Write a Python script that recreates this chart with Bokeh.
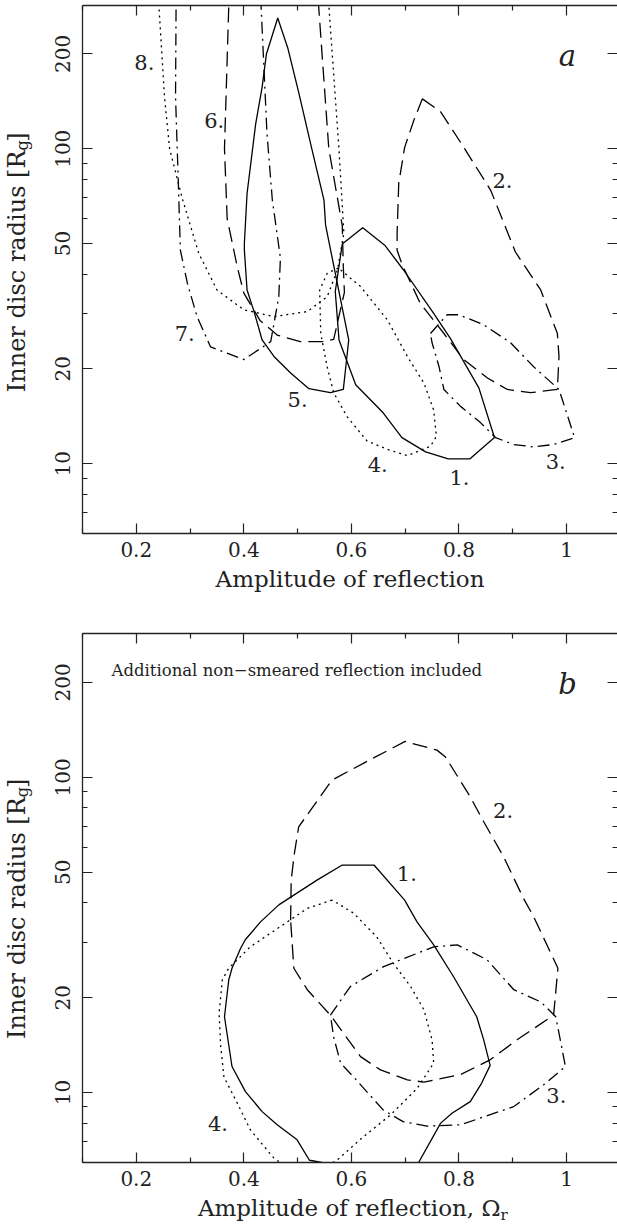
import math
from bokeh.plotting import figure
from bokeh.models import (Range1d, FixedTicker, CustomJSTickFormatter, LinearAxis,
                          LogAxis, Label, ColumnDataSource)
from bokeh.layouts import column, row
from bokeh.embed import file_html
from bokeh.resources import INLINE
from bokeh.core.properties import value

# ---------------- data: panel a ----------------
c1a_x = [0.583, 0.621, 0.662, 0.697, 0.753, 0.784, 0.837, 0.866, 0.820, 0.780, 0.738, 0.694, 0.659, 0.608, 0.577, 0.570, 0.583]
c1a_y = [49.8, 56.1, 49.4, 41.2, 30.0, 25.0, 17.4, 12.1, 10.35, 10.35, 10.9, 12.1, 14.5, 17.8, 24.7, 35.2, 49.8]

c2a_x = [0.732, 0.766, 0.809, 0.859, 0.905, 0.952, 0.983, 0.986, 0.983, 0.933, 0.890, 0.853, 0.809, 0.772, 0.728, 0.694, 0.685, 0.685, 0.688, 0.699, 0.716, 0.732]
c2a_y = [144, 131, 101, 73.8, 47.0, 35.6, 25.9, 21.9, 17.2, 16.8, 17.2, 18.7, 21.4, 25.9, 32.3, 43.0, 47.6, 53.8, 77.6, 101, 123, 144]

c3a_x = [0.747, 0.778, 0.800, 0.846, 0.896, 0.939, 0.986, 1.015, 0.976, 0.939, 0.902, 0.868, 0.840, 0.803, 0.772, 0.763, 0.750, 0.747]
c3a_y = [25.9, 29.7, 29.7, 27.6, 24.2, 20.3, 17.2, 12.1, 11.5, 11.3, 11.5, 12.1, 13.5, 15.2, 17.2, 20.3, 24.2, 25.9]

c4a_x = [0.580, 0.617, 0.667, 0.704, 0.735, 0.753, 0.758, 0.747, 0.704, 0.667, 0.629, 0.592, 0.567, 0.555, 0.543, 0.541, 0.555, 0.574, 0.580]
c4a_y = [41.2, 36.5, 28.6, 21.9, 18.0, 14.8, 12.2, 11.35, 10.6, 11.1, 11.8, 14.1, 16.8, 20.3, 25.9, 35.6, 40.2, 41.7, 41.2]

c5a_x = [0.401, 0.406, 0.422, 0.434, 0.442, 0.463, 0.482, 0.502, 0.524, 0.549, 0.552, 0.595, 0.585, 0.561, 0.521, 0.487, 0.456, 0.434, 0.419, 0.406, 0.401, 0.401]
c5a_y = [50.1, 72.1, 120, 157, 200, 260, 208, 151, 104, 68.7, 57.2, 24.7, 17.2, 16.8, 17.3, 19.4, 21.9, 24.7, 30.4, 35.6, 47.6, 50.1]

c6a_x = [0.373, 0.372, 0.364, 0.369, 0.388, 0.400, 0.430, 0.462, 0.505, 0.546, 0.567, 0.587, 0.585, 0.583, 0.558, 0.539, 0.537]
c6a_y = [330, 285, 100, 60, 42, 34.8, 28.5, 25.6, 24.4, 24.4, 24.8, 35.0, 42.0, 57.0, 100, 285, 330]

c7a_x = [0.274, 0.274, 0.273, 0.278, 0.282, 0.295, 0.313, 0.338, 0.400, 0.450, 0.465, 0.468, 0.453, 0.443, 0.432, 0.431]
c7a_y = [330, 285, 146, 80, 47.6, 37.4, 29.3, 23.5, 21.4, 24.4, 33.9, 45.0, 68.7, 112, 285, 330]

c8a_x = [0.243, 0.242, 0.2525, 0.262, 0.285, 0.316, 0.350, 0.400, 0.456, 0.518, 0.555, 0.574, 0.586, 0.577, 0.558, 0.557]
c8a_y = [330, 285, 146, 100, 70, 46.6, 35.6, 30.8, 29.3, 30.4, 33.9, 41.2, 54, 99, 285, 330]

lab_a_text = ["1.", "2.", "3.", "4.", "5.", "6.", "7.", "8."]
lab_a_x = [0.801, 0.881, 0.980, 0.649, 0.500, 0.345, 0.290, 0.215]
lab_a_y = [8.58, 75.4, 9.69, 9.46, 15.2, 117, 24.6, 179.5]

# ---------------- data: panel b ----------------
c1b_x = [0.465, 0.536, 0.583, 0.642, 0.699, 0.722, 0.753, 0.790, 0.833, 0.846, 0.858, 0.842, 0.821, 0.787, 0.766, 0.725, 0.630, 0.545, 0.522, 0.499, 0.462, 0.434, 0.403, 0.378, 0.364, 0.372, 0.378, 0.394, 0.403, 0.431, 0.465]
c1b_y = [39.4, 47.2, 52.7, 52.7, 40.8, 34.8, 29.4, 23.3, 17.4, 14.7, 12.2, 10.7, 9.36, 8.6, 8.0, 6.0, 5.2, 6.0, 6.1, 7.08, 7.9, 8.7, 10.07, 12.1, 17.4, 22.8, 24.8, 28.7, 30.6, 34.8, 39.4]

c2b_x = [0.487, 0.488, 0.494, 0.502, 0.564, 0.623, 0.700, 0.759, 0.775, 0.821, 0.846, 0.883, 0.920, 0.939, 0.984, 0.976, 0.908, 0.858, 0.803, 0.735, 0.704, 0.654, 0.617, 0.561, 0.518, 0.493, 0.487]
c2b_y = [35.2, 47.2, 57.4, 69.7, 98, 111, 130, 122, 116, 86.7, 72.3, 56, 41.3, 36.1, 24.8, 17.6, 14.7, 12.7, 11.4, 10.8, 10.97, 11.8, 13.0, 17.6, 21.2, 24.8, 35.2]

c3b_x = [0.561, 0.598, 0.660, 0.753, 0.797, 0.852, 0.902, 0.952, 0.980, 0.998, 0.958, 0.902, 0.803, 0.741, 0.696, 0.659, 0.609, 0.580, 0.567, 0.561]
c3b_y = [17.6, 21.7, 25.1, 29.0, 29.4, 26.4, 21.2, 19.4, 17.4, 12.1, 10.6, 9.03, 7.9, 7.83, 8.09, 8.81, 10.97, 12.4, 15.0, 17.6]

c4b_x = [0.564, 0.518, 0.412, 0.372, 0.360, 0.354, 0.357, 0.363, 0.388, 0.412, 0.456, 0.515, 0.574, 0.623, 0.673, 0.722, 0.753, 0.750, 0.735, 0.710, 0.678, 0.647, 0.604, 0.564]
c4b_y = [40.8, 38.4, 29.0, 24.8, 22.8, 17.9, 14.0, 11.2, 9.25, 7.62, 6.19, 5.3, 6.12, 7.26, 8.5, 10.3, 12.4, 14.7, 18.3, 21.7, 25.7, 31.2, 37.1, 40.8]

lab_b_text = ["1.", "2.", "3.", "4."]
lab_b_x = [0.703, 0.882, 0.981, 0.352]
lab_b_y = [47.2, 75.0, 9.3, 7.58]

# ---------------- axes ----------------
x_major = [0.2, 0.4, 0.6, 0.8, 1.0]
x_minor = [0.1, 0.3, 0.5, 0.7, 0.9, 1.1]
y_major = [10, 20, 50, 100, 200]
y_minor = [6, 7, 8, 9, 30, 40, 60, 70, 80, 90, 300]

FONT = "DejaVu Serif"
INK = "#222222"
PXU = 537.8              # pixels per unit of x
X0, X1 = 0.1, 0.1 + 535 / PXU
YA = (6.0, 285.0)
YB = (6.0, 286.0)

DASHED = "15 7"
DOTTED = "2 4"
DASHDOT = "12 5 2 5"

LW = 40                  # width of the strip holding the y label
LAB_FS = 23              # x-axis-label font size
YLAB_FS = 24             # y-axis-label font size
BL = 0.32                # empirical baseline correction (em)


def style_axis(ax, labels=True, line=True):
    ax.major_tick_in = 10
    ax.major_tick_out = 0
    ax.minor_tick_in = 5
    ax.minor_tick_out = 0
    ax.major_tick_line_color = INK
    ax.minor_tick_line_color = INK
    ax.major_tick_line_width = 1.2
    ax.minor_tick_line_width = 1.2
    ax.axis_line_color = INK if line else None
    ax.axis_line_width = 1.3
    if labels:
        ax.major_label_text_font = FONT
        ax.major_label_text_font_size = "20px"
        ax.major_label_text_color = INK
    else:
        ax.formatter = CustomJSTickFormatter(code="return ''")
        ax.major_label_text_font_size = "0px"
        ax.major_label_standoff = 0
        ax.axis_label_standoff = 0


def make_fig(height, top, bottom, yr, frame_top_page, frame_h):
    p = figure(width=617 - LW, height=height, x_range=Range1d(X0, X1),
               y_range=Range1d(*yr), y_axis_type="log",
               output_backend="svg", toolbar_location=None,
               min_border_left=82 - LW, min_border_right=0,
               min_border_top=top, min_border_bottom=bottom)
    p.outline_line_color = None
    p.grid.visible = False

    xa = p.below[0]
    xa.ticker = FixedTicker(ticks=x_major, minor_ticks=x_minor)
    xa.formatter = CustomJSTickFormatter(code="return Number(tick.toFixed(1)).toString()")
    style_axis(xa)
    xa.major_label_standoff = 8

    ya = p.left[0]
    ya.ticker = FixedTicker(ticks=y_major, minor_ticks=y_minor)
    ya.formatter = CustomJSTickFormatter(code="return String(Math.round(tick))")
    style_axis(ya)
    ya.major_label_orientation = "vertical"
    ya.major_label_standoff = 12

    top_ax = LinearAxis(ticker=FixedTicker(ticks=x_major, minor_ticks=x_minor))
    style_axis(top_ax, labels=False)
    p.add_layout(top_ax, "above")
    right_ax = LogAxis(ticker=FixedTicker(ticks=y_major, minor_ticks=y_minor))
    style_axis(right_ax, labels=False, line=False)
    p.add_layout(right_ax, "right")

    ly0, ly1 = math.log10(yr[0]), math.log10(yr[1])
    ppd = frame_h / (ly1 - ly0)

    def dx(px):
        return X0 + (px - 82) / PXU

    def dy(py):
        return 10 ** (ly1 - (py - frame_top_page) / ppd)

    def lift(y, px):
        return y * 10 ** (px / ppd)

    return p, dx, dy, lift


def strip(width, height):
    s = figure(width=width, height=height, x_range=Range1d(0, width),
               y_range=Range1d(0, height), output_backend="svg",
               toolbar_location=None, x_axis_location=None, y_axis_location=None,
               min_border=0)
    s.outline_line_color = None
    s.grid.visible = False
    return s


def ylabel_strip(height, top_page, center_page):
    s = strip(LW, height)
    fs = YLAB_FS
    sub_fs = 16
    main_len = 9.33 * fs
    g_len = 0.64 * sub_fs
    total = main_len + g_len + 0.39 * fs
    end_main = center_page + total / 2 - main_len   # page y where "[R" ends
    base_x = 27.5 - 0.45 * fs

    def ly(py):
        return height - (py - top_page)

    s.text(x=[base_x], y=[ly(end_main)], text=["Inner disc radius [R"], angle=math.pi / 2,
           text_align="right", text_baseline="alphabetic", text_font=value(FONT),
           text_font_size=f"{fs}px", text_color=INK)
    s.text(x=[base_x + 5], y=[ly(end_main)], text=["g"], angle=math.pi / 2,
           text_align="left", text_baseline="alphabetic", text_font=value(FONT),
           text_font_size=f"{sub_fs}px", text_color=INK)
    s.text(x=[base_x], y=[ly(end_main - g_len)], text=["]"], angle=math.pi / 2,
           text_align="left", text_baseline="alphabetic", text_font=value(FONT),
           text_font_size=f"{fs}px", text_color=INK)
    return s


def curve(p, xs, ys, dash):
    p.line(xs, ys, line_color="black", line_width=1.3, line_dash=dash)


def num_labels(p, lift, xs, ys, texts):
    fs = 21
    src = ColumnDataSource(dict(x=xs, y=[lift(v, BL * fs) for v in ys], t=texts))
    p.text(x="x", y="y", text="t", source=src, text_font=value(FONT),
           text_font_size=f"{fs}px", text_align="center", text_baseline="alphabetic",
           text_color=INK)


def corner_letter(p, dx, dy, px, py, letter):
    fs = 29
    p.add_layout(Label(x=dx(px), y=dy(py - BL * fs), text=letter, text_align="center",
                       text_baseline="alphabetic", text_font=FONT, text_font_size=f"{fs}px",
                       text_font_style="italic", text_color=INK))


# ---------------- panel a ----------------
HA = 615
pa, dxa, dya, lifta = make_fig(HA, 5, 82, YA, 5, 528)
xl = pa.below[0]
xl.axis_label = "Amplitude of reflection"
xl.axis_label_text_font = FONT
xl.axis_label_text_font_size = f"{LAB_FS}px"
xl.axis_label_text_font_style = "normal"
xl.axis_label_text_color = INK
xl.axis_label_standoff = 6

curve(pa, c1a_x, c1a_y, "solid")
curve(pa, c2a_x, c2a_y, DASHED)
curve(pa, c3a_x, c3a_y, DASHDOT)
curve(pa, c4a_x, c4a_y, DOTTED)
curve(pa, c5a_x, c5a_y, "solid")
curve(pa, c6a_x, c6a_y, DASHED)
curve(pa, c7a_x, c7a_y, DASHDOT)
curve(pa, c8a_x, c8a_y, DOTTED)
num_labels(pa, lifta, lab_a_x, lab_a_y, lab_a_text)
corner_letter(pa, dxa, dya, 567, 65, "a")
la = ylabel_strip(HA, 0, 271)

# ---------------- panel b ----------------
HB = 581
TOPB = HA
pb, dxb, dyb, liftb = make_fig(HB, 18, 34, YB, TOPB + 18, 529)

curve(pb, c1b_x, c1b_y, "solid")
curve(pb, c2b_x, c2b_y, DASHED)
curve(pb, c3b_x, c3b_y, DASHDOT)
curve(pb, c4b_x, c4b_y, DOTTED)
num_labels(pb, liftb, lab_b_x, lab_b_y, lab_b_text)
corner_letter(pb, dxb, dyb, 567, 693, "b")
NOTE_FS = 16.5
pb.add_layout(Label(x=dxb(111), y=dyb(675 - BL * NOTE_FS),
                    text="Additional non\u2212smeared reflection included",
                    text_align="left", text_baseline="alphabetic", text_font=FONT,
                    text_font_size=f"{NOTE_FS}px", text_color=INK))
lb = ylabel_strip(HB, TOPB, 897)

# ---------------- x label of panel b (with subscript) ----------------
HX = 1225 - HA - HB
TOPX = HA + HB
xb = strip(617, HX)
xb.text(x=[500], y=[HX - (1215 - BL * LAB_FS - TOPX)], text=["Amplitude of reflection, \u03a9"],
        text_align="right", text_baseline="alphabetic", text_font=value(FONT),
        text_font_size=f"{LAB_FS}px", text_color=INK)
xb.text(x=[500], y=[HX - (1219 - BL * 15 - TOPX)], text=["r"],
        text_align="left", text_baseline="alphabetic", text_font=value(FONT),
        text_font_size="15px", text_color=INK)

layout = column(row(la, pa, spacing=0), row(lb, pb, spacing=0), xb, spacing=0)
open("out.html", "w").write(file_html(layout, INLINE))
